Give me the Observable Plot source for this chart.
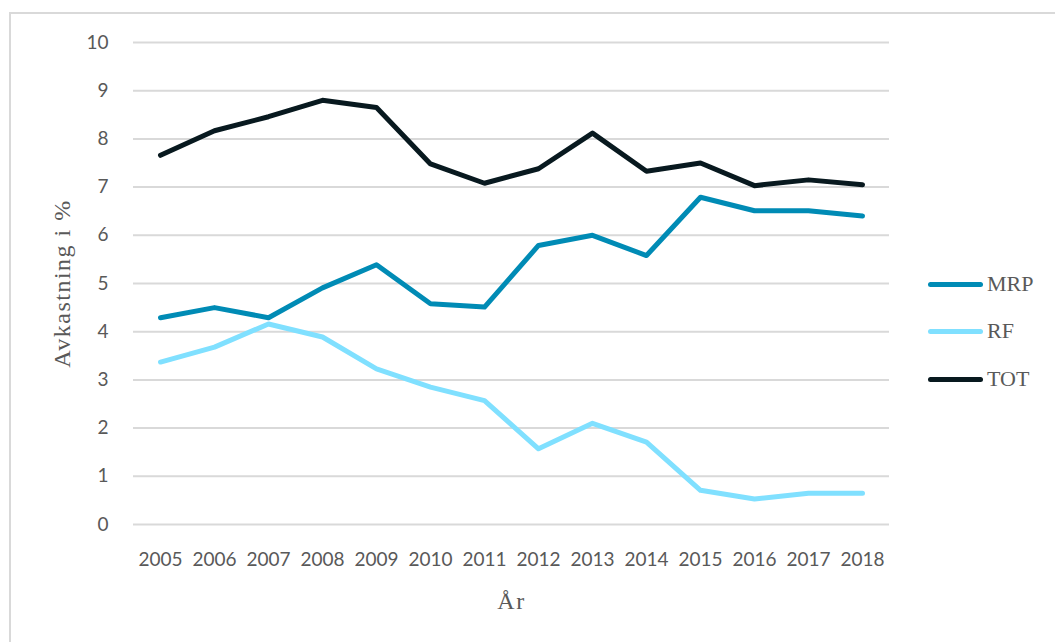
<!DOCTYPE html>
<html>
<head>
<meta charset="utf-8">
<script src="https://cdn.jsdelivr.net/npm/d3@7"></script>
<script src="https://cdn.jsdelivr.net/npm/@observablehq/plot@0.6"></script>
<style>
  html, body { margin: 0; padding: 0; background: #fff; overflow: hidden; }
  #wrap { position: relative; width: 1055px; height: 642px; overflow: hidden; }
  #frame { position: absolute; left: 9px; top: 12px; width: 1100px; height: 700px; border: 2px solid #d9d9d9; box-sizing: border-box; }
  #chart { position: absolute; left: 0; top: 0; }
  #chart svg { font-family: Lato, sans-serif; }
  g[aria-label="x-axis label"] text, g[aria-label="y-axis label"] text {
    font-family: "Liberation Serif", "DejaVu Serif", serif; font-size: 24px; letter-spacing: 1.5px;
  }
  #legend { position: absolute; left: 928px; top: 0; font-family: "Liberation Serif", serif; font-size: 22px; color: #595959; }
  .row { position: absolute; left: 0; display: flex; align-items: center; white-space: nowrap; transform: translateY(-50%); }
  .sw { width: 55px; height: 5px; border-radius: 3px; margin-right: 4px; }
</style>
</head>
<body>
<div id="wrap">
  <div id="frame"></div>
  <div id="chart"></div>
  <div id="legend"></div>
</div>
<script>
const years = [2005, 2006, 2007, 2008, 2009, 2010, 2011, 2012, 2013, 2014, 2015, 2016, 2017, 2018];
const seriesNames = ["MRP", "RF", "TOT"];
const mrp = [4.29, 4.50, 4.29, 4.91, 5.39, 4.58, 4.51, 5.79, 6.00, 5.58, 6.79, 6.51, 6.51, 6.40];
const rf  = [3.37, 3.68, 4.16, 3.89, 3.23, 2.85, 2.57, 1.57, 2.10, 1.71, 0.71, 0.53, 0.65, 0.65];
const tot = [7.66, 8.17, 8.46, 8.80, 8.65, 7.48, 7.08, 7.38, 8.12, 7.33, 7.50, 7.03, 7.15, 7.05];
const yTicks = [0, 1, 2, 3, 4, 5, 6, 7, 8, 9, 10];
const colors = ["#008bb5", "#80e0ff", "#08191f"];

const values = [mrp, rf, tot];
const data = [];
seriesNames.forEach((s, i) => years.forEach((y, j) => data.push({series: s, year: y, value: values[i][j]})));

const chart = Plot.plot({
  width: 1055,
  height: 642,
  marginLeft: 133,
  marginRight: 166,
  marginTop: 42,
  marginBottom: 118,
  style: {background: "transparent", color: "#595959", fontSize: "19px"},
  x: {type: "point", domain: years, padding: 0.5},
  y: {domain: [0, 10]},
  color: {domain: seriesNames, range: colors},
  marks: [
    Plot.gridY(yTicks, {stroke: "#d9d9d9", strokeOpacity: 1, strokeWidth: 2}),
    Plot.axisY(yTicks, {tickSize: 0, tickPadding: 25, fontSize: 19, fill: "#595959",
      label: "Avkastning i %", labelAnchor: "center", labelArrow: "none", labelOffset: 81}),
    Plot.axisX(years, {tickSize: 0, tickPadding: 28, fontSize: 19, fill: "#595959", tickFormat: d => String(d),
      label: "År", labelAnchor: "center", labelArrow: "none", labelOffset: 84}),
    Plot.line(data, {x: "year", y: "value", z: "series", stroke: "series", strokeWidth: 5, strokeLinejoin: "round", strokeLinecap: "round"})
  ]
});
document.getElementById("chart").appendChild(chart);

const legendTops = [284, 331, 379];
const legend = document.getElementById("legend");
seriesNames.forEach((s, i) => {
  const row = document.createElement("div");
  row.className = "row";
  row.style.top = legendTops[i] + "px";
  const sw = document.createElement("div");
  sw.className = "sw";
  sw.style.background = colors[i];
  const t = document.createElement("span");
  t.textContent = s;
  row.appendChild(sw);
  row.appendChild(t);
  legend.appendChild(row);
});
</script>
</body>
</html>
